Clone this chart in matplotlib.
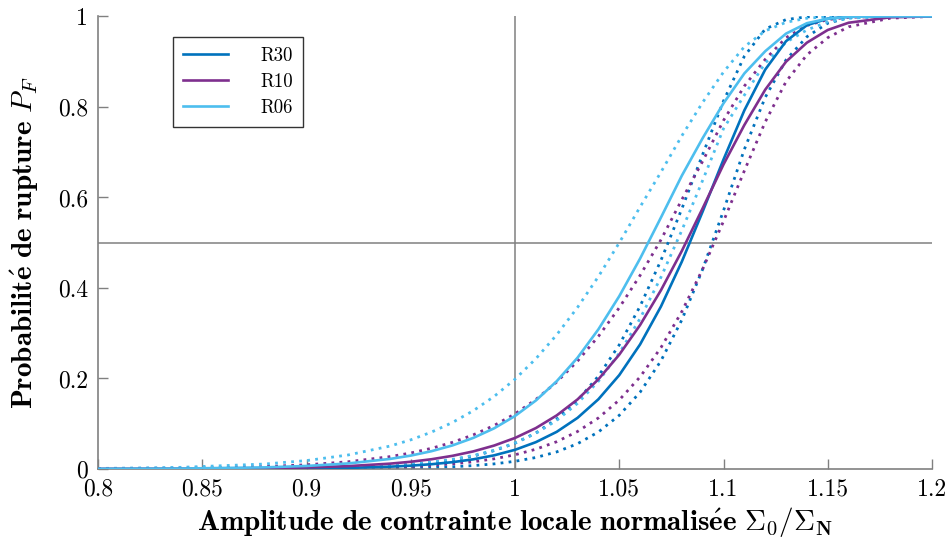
import matplotlib
matplotlib.use("Agg")
import matplotlib.pyplot as plt

plt.rcParams['mathtext.fontset'] = 'cm'
plt.rcParams['font.family'] = ['cmr10', 'DejaVu Serif']
plt.rcParams['axes.unicode_minus'] = False

# ---------------- data ----------------
x_vals = [0.80, 0.84, 0.88, 0.90, 0.92, 0.94,
          0.95, 0.96, 0.97, 0.98, 0.99,
          1.00, 1.01, 1.02, 1.03, 1.04, 1.05, 1.06, 1.07, 1.08, 1.09, 1.10, 1.11,
          1.12, 1.13, 1.14, 1.15, 1.16,
          1.18, 1.20]

r30_mean = [0.0000, 0.0001, 0.0005, 0.0012, 0.0025, 0.0051,
            0.0074, 0.0106, 0.0151, 0.0214, 0.0302,
            0.0424, 0.0593, 0.0821, 0.1130, 0.1541, 0.2074, 0.2753, 0.3591, 0.4580, 0.5688,
            0.6838, 0.7924, 0.8824, 0.9453, 0.9805, 0.9951, 0.9992,
            1.0000, 1.0000]
r30_upper = [0.0000, 0.0001, 0.0007, 0.0015, 0.0032, 0.0068,
             0.0098, 0.0141, 0.0201, 0.0286, 0.0405,
             0.0570, 0.0796, 0.1103, 0.1514, 0.2053, 0.2742, 0.3597, 0.4611, 0.5746, 0.6950,
             0.8130, 0.9120, 0.9720, 0.9930, 0.9990, 1.0000, 1.0000,
             1.0000, 1.0000]
r30_lower = [0.0000, 0.0000, 0.0001, 0.0002, 0.0006, 0.0014,
             0.0021, 0.0032, 0.0049, 0.0075, 0.0113,
             0.0170, 0.0254, 0.0378, 0.0559, 0.0818, 0.1186, 0.1697, 0.2390, 0.3293, 0.4414,
             0.5709, 0.7062, 0.8210, 0.9040, 0.9550, 0.9850, 0.9970,
             1.0000, 1.0000]

r10_mean = [0.0001, 0.0005, 0.0018, 0.0034, 0.0064, 0.0118,
            0.0160, 0.0216, 0.0291, 0.0389, 0.0518,
            0.0686, 0.0904, 0.1184, 0.1538, 0.1982, 0.2526, 0.3181, 0.3950, 0.4817, 0.5760,
            0.6729, 0.7600, 0.8380, 0.9000, 0.9420, 0.9700, 0.9860,
            0.9980, 1.0000]
r10_upper = [0.0005, 0.0017, 0.0053, 0.0093, 0.0160, 0.0273,
             0.0354, 0.0458, 0.0589, 0.0755, 0.0962,
             0.1219, 0.1536, 0.1922, 0.2384, 0.2930, 0.3563, 0.4278, 0.5064, 0.5950, 0.6800,
             0.7700, 0.8460, 0.9050, 0.9530, 0.9800, 0.9930, 0.9980,
             1.0000, 1.0000]
r10_lower = [0.0000, 0.0001, 0.0004, 0.0009, 0.0019, 0.0040,
             0.0056, 0.0080, 0.0114, 0.0160, 0.0225,
             0.0314, 0.0437, 0.0603, 0.0829, 0.1128, 0.1524, 0.2035, 0.2682, 0.3477, 0.4417,
             0.5474, 0.6589, 0.7667, 0.8560, 0.9150, 0.9530, 0.9770,
             0.9960, 1.0000]

r06_mean = [0.0003, 0.0010, 0.0036, 0.0067, 0.0123, 0.0222,
            0.0296, 0.0394, 0.0521, 0.0687, 0.0899,
            0.1171, 0.1513, 0.1939, 0.2459, 0.3086, 0.3818, 0.4650, 0.5557, 0.6480, 0.7310,
            0.8080, 0.8740, 0.9230, 0.9620, 0.9850, 0.9950, 0.9990,
            1.0000, 1.0000]
r06_upper = [0.0012, 0.0037, 0.0110, 0.0186, 0.0310, 0.0506,
             0.0644, 0.0816, 0.1028, 0.1288, 0.1604,
             0.1984, 0.2436, 0.2965, 0.3571, 0.4252, 0.4998, 0.5790, 0.6560, 0.7360, 0.8100,
             0.8770, 0.9330, 0.9680, 0.9870, 0.9960, 0.9990, 1.0000,
             1.0000, 1.0000]
r06_lower = [0.0000, 0.0002, 0.0009, 0.0018, 0.0038, 0.0076,
             0.0108, 0.0152, 0.0214, 0.0299, 0.0415,
             0.0574, 0.0788, 0.1074, 0.1451, 0.1939, 0.2559, 0.3325, 0.4237, 0.5271, 0.6377,
             0.7520, 0.8260, 0.8970, 0.9430, 0.9700, 0.9880, 0.9960,
             1.0000, 1.0000]

series_names = ['R30', 'R10', 'R06']
x_ticks = [0.8, 0.85, 0.9, 0.95, 1.0, 1.05, 1.1, 1.15, 1.2]
x_tick_labels = ['0.8', '0.85', '0.9', '0.95', '1', '1.05', '1.1', '1.15', '1.2']
y_ticks = [0, 0.2, 0.4, 0.6, 0.8, 1.0]
y_tick_labels = ['0', '0.2', '0.4', '0.6', '0.8', '1']

# ---------------- styling ----------------
c30 = '#0072BD'
c10 = '#7E2F8E'
c06 = '#4DBEEE'
grey = '#808080'

fig = plt.figure(figsize=(9.51, 5.42), dpi=100)
ax = fig.add_axes([98/951, 73/542, 834/951, 452.6/542])

ax.axvline(1.0, color=grey, lw=1.1, zorder=1)
ax.axhline(0.5, color=grey, lw=1.1, zorder=1)

dot = (0, (1, 1.9))
lw_s = 1.9
lw_d = 2.0
for ys_, col in [(r30_upper, c30), (r30_lower, c30),
                 (r10_upper, c10), (r10_lower, c10),
                 (r06_upper, c06), (r06_lower, c06)]:
    ax.plot(x_vals, ys_, color=col, lw=lw_d, linestyle=dot, zorder=2)

l30, = ax.plot(x_vals, r30_mean, color=c30, lw=lw_s, zorder=3)
l10, = ax.plot(x_vals, r10_mean, color=c10, lw=lw_s, zorder=3)
l06, = ax.plot(x_vals, r06_mean, color=c06, lw=lw_s, zorder=3)

ax.set_xlim(0.8, 1.2)
ax.set_ylim(0, 1)
ax.set_xticks(x_ticks)
ax.set_xticklabels(x_tick_labels, fontsize=17)
ax.set_yticks(y_ticks)
ax.set_yticklabels(y_tick_labels, fontsize=17)
ax.tick_params(direction='in', length=7, width=1.0, color=grey)
ax.tick_params(axis='x', pad=7)
ax.tick_params(axis='y', pad=7)

for s in ['top', 'right']:
    ax.spines[s].set_visible(False)
for s in ['left', 'bottom']:
    ax.spines[s].set_color(grey)
    ax.spines[s].set_linewidth(1.2)

ax.set_xlabel(r'$\mathbf{Amplitude\ de\ contrainte\ locale\ normalis\acute{e}e}\ \mathbf{\Sigma_0/\Sigma_N}$',
              fontsize=21, labelpad=3)
ax.set_ylabel(r'$\mathbf{Probabilit\acute{e}\ de\ rupture}\ P_F$', fontsize=21, labelpad=12)

leg = ax.legend([l30, l10, l06], series_names, loc='upper left',
                bbox_to_anchor=(0.0899, 0.955), borderaxespad=0, fontsize=13.5,
                handlelength=2.4, handletextpad=1.7, borderpad=0.55, labelspacing=0.42,
                fancybox=False, framealpha=1, edgecolor='#333333')
leg.get_frame().set_linewidth(1.0)

fig.savefig('out.png', dpi=100)
